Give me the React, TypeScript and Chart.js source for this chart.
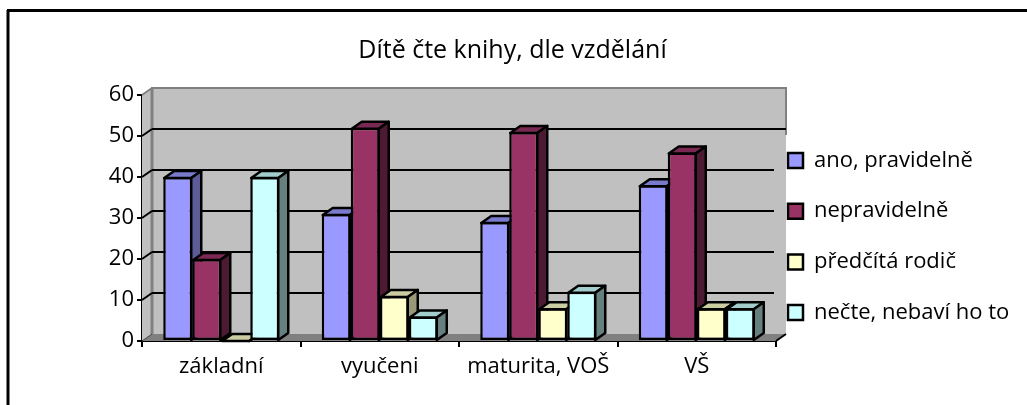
import React, { useEffect, useRef } from "react";
import { Chart, registerables } from "chart.js";

Chart.register(...registerables);

const categories = ["základní", "vyučeni", "maturita, VOŠ", "VŠ"];
const seriesNames = ["ano, pravidelně", "nepravidelně", "předčítá rodič", "nečte, nebaví ho to"];
const pravidelne = [40, 31, 29, 38];
const nepravidelne = [20, 52, 51, 46];
const predcita = [0, 11, 8, 8];
const necte = [40, 6, 12, 8];
const frontColors = ["#9999FF", "#993366", "#FFFFCC", "#CCFFFF"];
const topColors = ["#7A7ACC", "#7A2952", "#CCCCA3", "#A3CCCC"];
const sideColors = ["#5C5C99", "#4D1A33", "#99997A", "#668080"];
const titleText = "Dítě čte knihy, dle vzdělání";
const FONT = "Open Sans";
const DX = 10;
const DY = -7;
const BAR_LINE = 2.5;

function poly(ctx: CanvasRenderingContext2D, pts: number[][], fill?: string, stroke?: string, lw = 2) {
  ctx.beginPath();
  pts.forEach((p, i) => (i ? ctx.lineTo(p[0], p[1]) : ctx.moveTo(p[0], p[1])));
  ctx.closePath();
  if (fill) {
    ctx.fillStyle = fill;
    ctx.fill();
  }
  if (stroke) {
    ctx.strokeStyle = stroke;
    ctx.lineWidth = lw;
    ctx.lineJoin = "round";
    ctx.stroke();
  }
}

function line(ctx: CanvasRenderingContext2D, x1: number, y1: number, x2: number, y2: number, c: string, lw = 2) {
  ctx.beginPath();
  ctx.moveTo(x1, y1);
  ctx.lineTo(x2, y2);
  ctx.strokeStyle = c;
  ctx.lineWidth = lw;
  ctx.stroke();
}

let replaying = false;

const scene = {
  id: "scene3d",
  afterLayout(chart: any) {
    const lg = chart.legend;
    const p = lg.options.labels.padding;
    const h = lg.height;
    lg.left = 788 - p;
    lg.right = lg.left + lg.width;
    lg.top = 149.5 - p;
    lg.bottom = lg.top + h;
    const tb = chart.titleBlock;
    tb.left = 0;
    tb.right = 1025;
  },
  beforeDraw(chart: any) {
    const ctx = chart.ctx;
    ctx.save();
    line(ctx, 7, 10.5, 1027, 10.5, "#000", 3);
    line(ctx, 8, 10, 8, 405, "#000", 3);
    ctx.restore();
  },
  beforeDatasetsDraw(chart: any) {
    const ctx = chart.ctx;
    const { left, right, top, bottom } = chart.chartArea;
    const y = chart.scales.y;
    ctx.save();
    // back wall, side wall, floor
    poly(ctx, [[left + DX, top + DY], [right + DX, top + DY], [right + DX, bottom + DY], [left + DX, bottom + DY]], "#C0C0C0");
    poly(ctx, [[left, top], [left + DX, top + DY], [left + DX, bottom + DY], [left, bottom]], "#C0C0C0");
    poly(ctx, [[left, bottom], [left + DX, bottom + DY], [right + DX, bottom + DY], [right, bottom]], "#808080");
    // wall edges
    line(ctx, left + DX - 1, top + DY, right + DX + 1, top + DY, "#808080", 2);
    line(ctx, left + DX, top + DY, left + DX, bottom + DY, "#808080", 3);
    line(ctx, right + DX, top + DY, right + DX, y.getPixelForValue(50) + DY + 6, "#808080", 2);
    line(ctx, left, top, left + DX, top + DY, "#808080", 2);
    // grid lines on the walls
    y.ticks.forEach((t: any) => {
      const py = y.getPixelForValue(t.value);
      if (t.value > 0 && t.value < 60) {
        line(ctx, left + DX, py + DY, t.value === 50 ? right + DX : right - 2, py + DY, "#000", 2);
        line(ctx, left, py, left + DX, py + DY, "#000", 2);
      }
    });
    line(ctx, right, bottom, right + DX, bottom + DY, "#000", 2);
    line(ctx, left, bottom, left + DX, bottom + DY, "#404040", 1);
    ctx.restore();
  },
  // Chart.js paints datasets last to first; here each bar must cover the
  // side face of the bar on its left, so they are painted first to last.
  beforeDatasetDraw() {
    return replaying;
  },
  afterDatasetsDraw(chart: any) {
    const ctx = chart.ctx;
    replaying = true;
    chart.data.datasets.forEach((_: any, i: number) => {
      const meta = chart.getDatasetMeta(i);
      meta.controller.draw();
      ctx.save();
      meta.data.forEach((bar: any) => {
        const p = bar.getProps(["x", "y", "base", "width"], true);
        const l = p.x - p.width / 2 + 1;
        const r = p.x + p.width / 2 - 1;
        const b = p.base;
        const t = Math.min(p.y + 1, b);
        poly(ctx, [[l, t], [l + DX, t + DY], [r + DX, t + DY], [r, t]], topColors[i], "#000", BAR_LINE);
        poly(ctx, [[r, t], [r + DX, t + DY], [r + DX, b + DY], [r, b]], sideColors[i], "#000", BAR_LINE);
      });
      ctx.restore();
    });
    replaying = false;
  },
};

export default function App() {
  const ref = useRef<HTMLCanvasElement>(null);
  useEffect(() => {
    document.body.style.margin = "0";
    const mk = (i: number, data: number[]) => ({
      label: seriesNames[i],
      data,
      backgroundColor: frontColors[i],
      borderColor: "#000",
      borderWidth: BAR_LINE,
      borderSkipped: false as const,
    });
    const chart = new Chart(ref.current!, {
      type: "bar",
      data: {
        labels: categories,
        datasets: [mk(0, pravidelne), mk(1, nepravidelne), mk(2, predcita), mk(3, necte)],
      },
      options: {
        responsive: false,
        animation: false,
        layout: { padding: { left: 0, right: 251, top: 0, bottom: 0 } },
        plugins: {
          tooltip: { enabled: false },
          title: {
            display: true,
            text: titleText,
            color: "#000",
            font: { family: FONT, size: 25, weight: "normal", lineHeight: 1.2 },
            padding: { top: 36, bottom: 29 },
          },
          legend: {
            position: "chartArea" as any,
            align: "start",
            labels: {
              color: "#000",
              boxWidth: 15,
              boxHeight: 15,
              padding: 28.7,
              font: { family: FONT, size: 22 },
            },
          },
        },
        scales: {
          x: {
            afterFit: (s: any) => { s.height = 64; },
            border: { color: "#000", width: 2 },
            grid: { drawOnChartArea: false, drawTicks: true, tickLength: 6, color: "#000", lineWidth: 2 },
            ticks: { color: "#000", padding: 7, maxRotation: 0, font: { family: FONT, size: 22 } },
          },
          y: {
            min: 0,
            max: 60,
            afterFit: (s: any) => { s.width = 142; },
            border: { color: "#000", width: 2 },
            grid: { drawOnChartArea: false, drawTicks: true, tickLength: 5, color: "#000", lineWidth: 2 },
            ticks: { stepSize: 10, color: "#000", padding: 3, font: { family: FONT, size: 22 } },
          },
        },
        datasets: { bar: { categoryPercentage: 0.732, barPercentage: 1 } },
      },
      plugins: [scene],
    } as any);
    return () => chart.destroy();
  }, []);
  return <canvas ref={ref} width={1027} height={405} style={{ display: "block" }} />;
}
